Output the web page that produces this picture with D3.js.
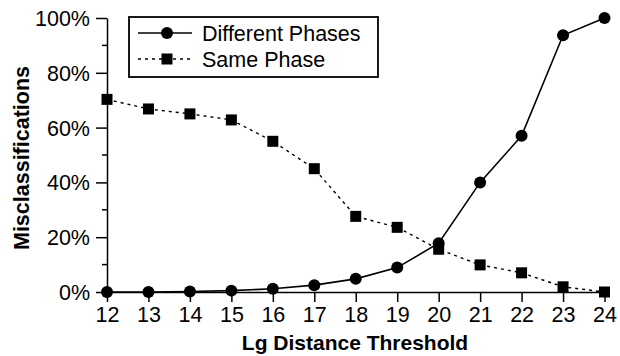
<!DOCTYPE html>
<html>
<head>
<meta charset="utf-8">
<script src="https://cdn.jsdelivr.net/npm/d3@7"></script>
<style>
  body { margin: 0; background: #fff; }
  svg { display: block; font-family: "Liberation Sans", Arial, sans-serif; }
</style>
</head>
<body>
<svg id="chart" width="620" height="356"></svg>
<script>
const thresholds = [12, 13, 14, 15, 16, 17, 18, 19, 20, 21, 22, 23, 24];
const differentPhases = [0, 0, 0.2, 0.5, 1.2, 2.5, 4.8, 8.9, 17.8, 40, 57, 93.7, 100];
const samePhase = [70.3, 66.8, 65, 62.8, 55, 45, 27.6, 23.6, 15.6, 9.9, 7, 1.9, 0];
const yTicks = [0, 20, 40, 60, 80, 100];
const yMinorTicks = [10, 30, 50, 70, 90];
const seriesNames = ['Different Phases', 'Same Phase'];

const margin = { top: 18, right: 15, bottom: 64, left: 107 };
const svg = d3.select('#chart');
const width = 620 - margin.left - margin.right;
const height = 356 - margin.top - margin.bottom;
const g = svg.append('g').attr('transform', 'translate(' + margin.left + ',' + margin.top + ')');

const x = d3.scaleLinear().domain([12, 24]).range([0, width - 0.5]);
const y = d3.scaleLinear().domain([0, 100]).range([height, 0]);

// axes
const yAxis = d3.axisLeft(y).tickValues(yTicks).tickFormat(d => d + '%').tickSize(11).tickSizeOuter(0).tickPadding(6);
const yAxisG = g.append('g').call(yAxis);
yAxisG.selectAll('text').style('font-size', '21.5px').attr('fill', '#000').attr('dy', '0.35em');
yAxisG.select('.domain').attr('stroke', '#000').attr('stroke-width', 1.5);
yAxisG.selectAll('.tick line').attr('stroke-width', 1.5);

g.append('g').selectAll('line').data(yMinorTicks).join('line')
  .attr('x1', -5).attr('x2', 0)
  .attr('y1', d => y(d)).attr('y2', d => y(d))
  .attr('stroke', '#000').attr('stroke-width', 1.5);

const xAxis = d3.axisBottom(x).tickValues(thresholds).tickFormat(d3.format('d')).tickSize(10).tickSizeOuter(0).tickPadding(5);
const xAxisG = g.append('g').attr('transform', 'translate(0,' + height + ')').call(xAxis);
xAxisG.selectAll('text').style('font-size', '21.5px').attr('fill', '#000');
xAxisG.select('.domain').attr('stroke', '#000').attr('stroke-width', 1.5);
xAxisG.selectAll('.tick line').attr('stroke-width', 1.5);

// axis titles
svg.append('text')
  .attr('x', 355).attr('y', 350)
  .attr('text-anchor', 'middle')
  .style('font-size', '21px').style('font-weight', 'bold')
  .text('Lg Distance Threshold');

svg.append('text')
  .attr('transform', 'translate(29,158) rotate(-90)')
  .attr('text-anchor', 'middle')
  .style('font-size', '21.5px').style('font-weight', 'bold')
  .text('Misclassifications');

// lines
const line = d3.line().x((d, i) => x(thresholds[i])).y(d => y(d));

g.append('path').datum(samePhase)
  .attr('d', line).attr('fill', 'none').attr('stroke', '#000')
  .attr('stroke-width', 1.4).attr('stroke-dasharray', '3,4');

g.append('path').datum(differentPhases)
  .attr('d', line).attr('fill', 'none').attr('stroke', '#000')
  .attr('stroke-width', 1.6);

g.append('g').selectAll('rect').data(samePhase).join('rect')
  .attr('x', (d, i) => x(thresholds[i]) - 5.5)
  .attr('y', d => y(d) - 5.5)
  .attr('width', 11).attr('height', 11).attr('fill', '#000');

g.append('g').selectAll('circle').data(differentPhases).join('circle')
  .attr('cx', (d, i) => x(thresholds[i]))
  .attr('cy', d => y(d))
  .attr('r', 6).attr('fill', '#000');

// legend
const legend = svg.append('g').attr('transform', 'translate(129,17)');
legend.append('rect')
  .attr('width', 249).attr('height', 60)
  .attr('fill', '#fff').attr('stroke', '#000').attr('stroke-width', 1.8);

const rows = [{ y: 16, dash: null, marker: 'circle' }, { y: 42, dash: '3,4', marker: 'rect' }];
rows.forEach((r, i) => {
  legend.append('line')
    .attr('x1', 9).attr('x2', 63).attr('y1', r.y).attr('y2', r.y)
    .attr('stroke', '#000').attr('stroke-width', 1.5)
    .attr('stroke-dasharray', r.dash);
  if (r.marker === 'circle') {
    legend.append('circle').attr('cx', 38).attr('cy', r.y).attr('r', 6).attr('fill', '#000');
  } else {
    legend.append('rect').attr('x', 32.5).attr('y', r.y - 5.5).attr('width', 11).attr('height', 11).attr('fill', '#000');
  }
  legend.append('text')
    .attr('x', 73).attr('y', r.y + 7.5)
    .style('font-size', '21.5px').attr('fill', '#000')
    .text(seriesNames[i]);
});
</script>
</body>
</html>
